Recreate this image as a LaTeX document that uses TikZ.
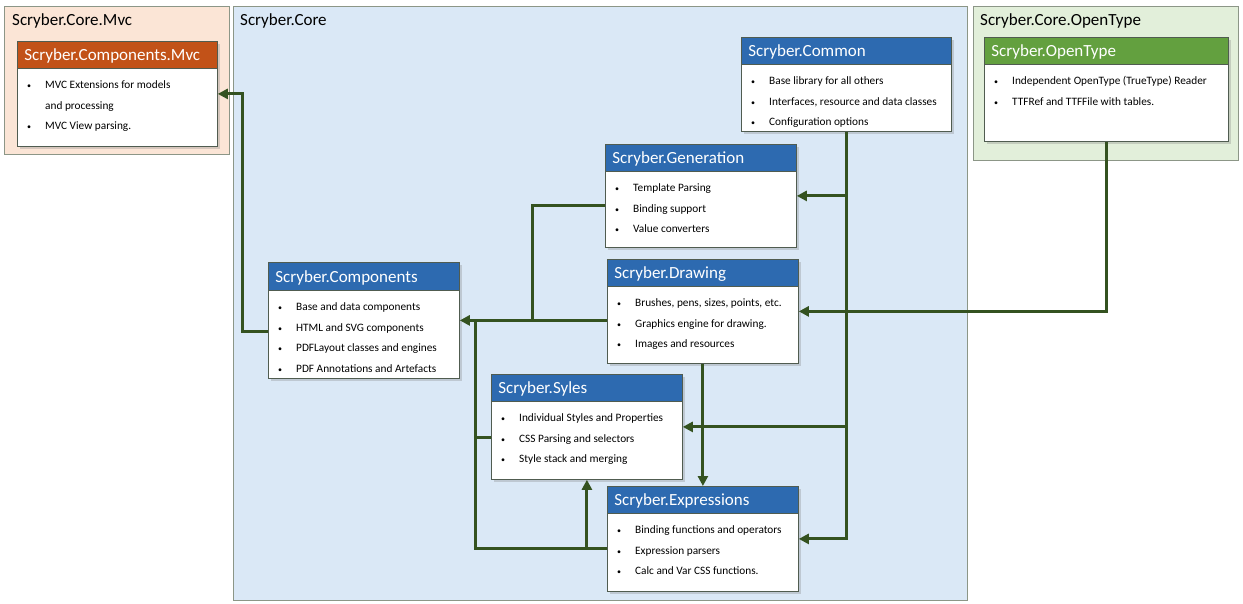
\documentclass[tikz,border=0pt]{standalone}
\usepackage{fontspec}
\setmainfont{Carlito}
\usetikzlibrary{calc,shadows,arrows.meta}

\definecolor{CoreBlue}{RGB}{218,232,246}
\definecolor{MvcPeach}{RGB}{251,229,214}
\definecolor{TypeGreen}{RGB}{226,239,218}
\definecolor{HeadBlue}{RGB}{45,106,176}
\definecolor{HeadOrange}{RGB}{194,82,24}
\definecolor{HeadGreen}{RGB}{99,160,63}
\definecolor{LinkGreen}{RGB}{52,82,32}
\definecolor{FrameGrey}{RGB}{140,150,135}
\definecolor{BoxGrey}{RGB}{80,92,80}

\newcommand{\itembullet}{{\fontsize{8}{8}\selectfont\textbullet}}

\tikzset
{
  ContainerStyle/.style =
  {
    shape = rectangle,
    draw = FrameGrey,
    line width = 0.8pt,
    inner sep = 0pt,
    anchor = north west,
  },
  ContainerTitleStyle/.style =
  {
    anchor = base west,
    inner sep = 0pt,
    font = \fontsize{17}{20}\selectfont,
  },
  PackageBodyStyle/.style =
  {
    shape = rectangle,
    draw = BoxGrey,
    fill = white,
    line width = 0.8pt,
    inner sep = 0pt,
    anchor = north west,
    drop shadow = {opacity = 0.3, shadow xshift = 2.5pt, shadow yshift = -2.5pt},
  },
  PackageHeadStyle/.style =
  {
    shape = rectangle,
    draw = BoxGrey,
    line width = 0.8pt,
    anchor = north west,
    inner xsep = 7pt,
    inner ysep = 0pt,
    minimum height = 27pt,
    text height = 13pt,
    text depth = 1pt,
    align = left,
    text = white,
    font = \fontsize{17}{20}\selectfont,
  },
  PackageItemsStyle/.style =
  {
    anchor = base west,
    inner sep = 0pt,
    font = \fontsize{11.3}{20.5}\selectfont,
  },
  LinkStyle/.style =
  {
    draw = LinkGreen,
    line width = 3pt,
  },
  DependencyStyle/.style =
  {
    LinkStyle,
    -{Triangle[length = 10pt, width = 10pt]},
  },
}

\begin{document}
\begin{tikzpicture}[x=1pt, y=-1pt]
  \useasboundingbox (0,0) rectangle (1243,604);

  % containers
  \node[ContainerStyle, fill=MvcPeach, minimum width=225pt, minimum height=148pt] (core-mvc) at (4,6) {};
  \node[ContainerTitleStyle] (core-mvc-title) at (12,26) {Scryber.Core.Mvc};
  \node[ContainerStyle, fill=CoreBlue, minimum width=734pt, minimum height=594pt] (core) at (233,6) {};
  \node[ContainerTitleStyle] (core-title) at (240,26) {Scryber.Core};
  \node[ContainerStyle, fill=TypeGreen, minimum width=265pt, minimum height=154pt] (core-opentype) at (973,6) {};
  \node[ContainerTitleStyle] (core-opentype-title) at (980,26) {Scryber.Core.OpenType};

  % Scryber.Components.Mvc
  \node[PackageBodyStyle, minimum width=200pt, minimum height=105pt] (mvc) at (17,41) {};
  \node[PackageHeadStyle, fill=HeadOrange, text width=186pt] (mvc-head) at (mvc.north west) {Scryber.Components.Mvc};
  \node[PackageItemsStyle] (mvc-items) at ($(mvc-head.south west)+(10,20)$) {
    \begin{tabular}[t]{@{}p{18pt}@{}l@{}}
    \itembullet & MVC Extensions for models \\
                & and processing \\
    \itembullet & MVC View parsing. \\
    \end{tabular}
  };

  % Scryber.Common
  \node[PackageBodyStyle, minimum width=210pt, minimum height=94pt] (common) at (741,37) {};
  \node[PackageHeadStyle, fill=HeadBlue, text width=196pt] (common-head) at (common.north west) {Scryber.Common};
  \node[PackageItemsStyle] (common-items) at ($(common-head.south west)+(10,20)$) {
    \begin{tabular}[t]{@{}p{18pt}@{}l@{}}
    \itembullet & Base library for all others \\
    \itembullet & Interfaces, resource and data classes \\
    \itembullet & Configuration options \\
    \end{tabular}
  };

  % Scryber.OpenType
  \node[PackageBodyStyle, minimum width=244pt, minimum height=104pt] (opentype) at (984,37) {};
  \node[PackageHeadStyle, fill=HeadGreen, text width=230pt] (opentype-head) at (opentype.north west) {Scryber.OpenType};
  \node[PackageItemsStyle] (opentype-items) at ($(opentype-head.south west)+(10,20)$) {
    \begin{tabular}[t]{@{}p{18pt}@{}l@{}}
    \itembullet & Independent OpenType (TrueType) Reader \\
    \itembullet & TTFRef and TTFFile with tables. \\
    \end{tabular}
  };

  % Scryber.Generation
  \node[PackageBodyStyle, minimum width=191pt, minimum height=103pt] (generation) at (605,144) {};
  \node[PackageHeadStyle, fill=HeadBlue, text width=177pt] (generation-head) at (generation.north west) {Scryber.Generation};
  \node[PackageItemsStyle] (generation-items) at ($(generation-head.south west)+(10,20)$) {
    \begin{tabular}[t]{@{}p{18pt}@{}l@{}}
    \itembullet & Template Parsing \\
    \itembullet & Binding support \\
    \itembullet & Value converters \\
    \end{tabular}
  };

  % Scryber.Components
  \node[PackageBodyStyle, minimum width=191pt, minimum height=116pt] (components) at (268,262) {};
  \node[PackageHeadStyle, fill=HeadBlue, text width=177pt, minimum height=28pt] (components-head) at (components.north west) {Scryber.Components};
  \node[PackageItemsStyle] (components-items) at ($(components-head.south west)+(10,20)$) {
    \begin{tabular}[t]{@{}p{18pt}@{}l@{}}
    \itembullet & Base and data components \\
    \itembullet & HTML and SVG components \\
    \itembullet & PDFLayout classes and engines \\
    \itembullet & PDF Annotations and Artefacts \\
    \end{tabular}
  };

  % Scryber.Drawing
  \node[PackageBodyStyle, minimum width=191pt, minimum height=104pt] (drawing) at (607,259) {};
  \node[PackageHeadStyle, fill=HeadBlue, text width=177pt] (drawing-head) at (drawing.north west) {Scryber.Drawing};
  \node[PackageItemsStyle] (drawing-items) at ($(drawing-head.south west)+(10,20)$) {
    \begin{tabular}[t]{@{}p{18pt}@{}l@{}}
    \itembullet & Brushes, pens, sizes, points, etc. \\
    \itembullet & Graphics engine for drawing. \\
    \itembullet & Images and resources \\
    \end{tabular}
  };

  % Scryber.Syles
  \node[PackageBodyStyle, minimum width=191pt, minimum height=105pt] (syles) at (491,374) {};
  \node[PackageHeadStyle, fill=HeadBlue, text width=177pt] (syles-head) at (syles.north west) {Scryber.Syles};
  \node[PackageItemsStyle] (syles-items) at ($(syles-head.south west)+(10,20)$) {
    \begin{tabular}[t]{@{}p{18pt}@{}l@{}}
    \itembullet & Individual Styles and Properties \\
    \itembullet & CSS Parsing and selectors \\
    \itembullet & Style stack and merging \\
    \end{tabular}
  };

  % Scryber.Expressions
  \node[PackageBodyStyle, minimum width=191pt, minimum height=105pt] (expressions) at (607,486) {};
  \node[PackageHeadStyle, fill=HeadBlue, text width=177pt] (expressions-head) at (expressions.north west) {Scryber.Expressions};
  \node[PackageItemsStyle] (expressions-items) at ($(expressions-head.south west)+(10,20)$) {
    \begin{tabular}[t]{@{}p{18pt}@{}l@{}}
    \itembullet & Binding functions and operators \\
    \itembullet & Expression parsers \\
    \itembullet & Calc and Var CSS functions. \\
    \end{tabular}
  };

  % connector ends
  \coordinate (generation-out) at ($(generation.west)+(0,9.5)$);
  \coordinate (generation-bus) at (532,0);
  \coordinate (expressions-out) at ($(expressions.west)+(0,10)$);
  \coordinate (syles-out) at ($(syles.west)+(0,10.5)$);
  \coordinate (components-bus) at (475,0);
  \coordinate (components-out) at ($(components.west)+(0,11)$);
  \coordinate (mvc-bus) at (242,0);

  % dependencies
  \draw[DependencyStyle] (common.south) |- (expressions.east);
  \draw[DependencyStyle] (common.south |- generation.east) -- (generation.east);
  \draw[DependencyStyle] (common.south |- syles.east) -- (syles.east);
  \draw[DependencyStyle] (opentype.south) |- (drawing.east);
  \draw[DependencyStyle] (drawing.south) -- (expressions.north);
  \draw[DependencyStyle] (drawing.west |- components.east) -- (components.east);
  \draw[LinkStyle] (generation-out) -| (generation-bus |- components.east);
  \draw[LinkStyle] (expressions-out) -| (components-bus |- components.east);
  \draw[LinkStyle] (syles-out) -- (components-bus |- syles-out);
  \draw[DependencyStyle] (syles.south |- expressions-out) -- (syles.south);
  \draw[DependencyStyle] (components-out) -- (mvc-bus |- components-out) |- (mvc.east);
\end{tikzpicture}
\end{document}
